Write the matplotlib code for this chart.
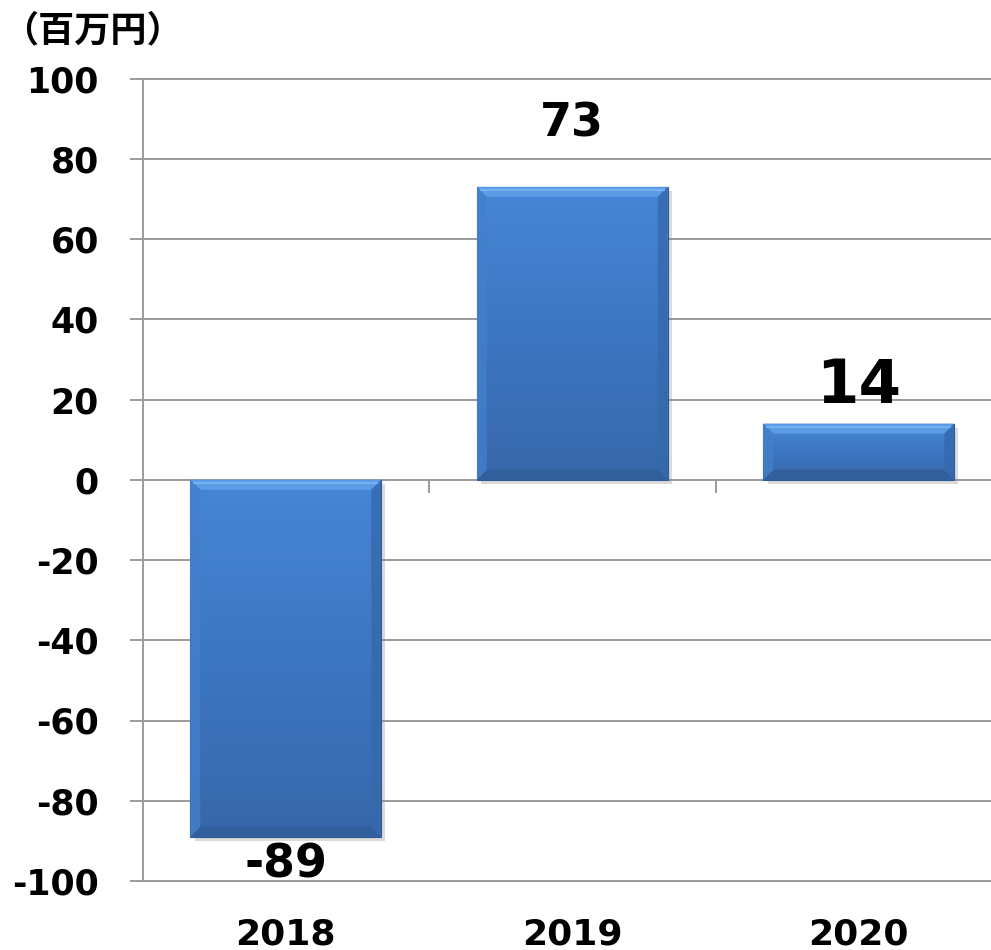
import numpy as np
import matplotlib.pyplot as plt
import matplotlib.patheffects as pe
from matplotlib.patches import Polygon
from matplotlib.colors import LinearSegmentedColormap

# 年度別の損益（百万円）
years = ['2018', '2019', '2020']
profit = [-89, 73, 14]
y_ticks = [-100, -80, -60, -40, -20, 0, 20, 40, 60, 80, 100]

# ラベルの位置（棒の端からのずれ, pt）とサイズ
label_offsets = [-4, 36, 15]
label_sizes = [33, 33, 44]

grid_col = '#9a9a9a'
bar_cmap = LinearSegmentedColormap.from_list('bar', ['#4686d6', '#3d76c2', '#3767aa'])

fig = plt.figure(figsize=(9.91, 9.5), dpi=100)
ax = fig.add_axes([142.5 / 991, 1 - 881 / 950, 859.5 / 991, 802.5 / 950])

x = np.arange(len(years))
width = 0.665
bars = ax.bar(x, profit, width=width, color='#3c74bf', edgecolor='#2e5a96',
              linewidth=0.8, zorder=3,
              path_effects=[pe.SimplePatchShadow(offset=(3, -3), shadow_rgbFace='#888888', alpha=0.3),
                            pe.Normal()])

# 縦方向のグラデーションと面取り
grad = np.linspace(0, 1, 256).reshape(-1, 1)
bx, by = 0.034, 2.5
for b, v in zip(bars, profit):
    x0, x1 = b.get_x(), b.get_x() + b.get_width()
    lo, hi = min(0, v), max(0, v)
    im = ax.imshow(grad, cmap=bar_cmap, extent=(x0, x1, lo, hi), origin='upper',
                   aspect='auto', zorder=3.1)
    im.set_clip_path(b)
    top = Polygon([(x0, hi), (x1, hi), (x1 - bx, hi - by), (x0 + bx, hi - by)],
                  closed=True, facecolor='#5a9ce6', edgecolor='none', zorder=3.2)
    bot = Polygon([(x0, lo), (x1, lo), (x1 - bx, lo + by), (x0 + bx, lo + by)],
                  closed=True, facecolor='#305f9c', edgecolor='none', zorder=3.2)
    left = Polygon([(x0, lo), (x0, hi), (x0 + bx, hi - by), (x0 + bx, lo + by)],
                   closed=True, facecolor='#437fcb', edgecolor='none', alpha=0.8, zorder=3.2)
    right = Polygon([(x1, lo), (x1, hi), (x1 - bx, hi - by), (x1 - bx, lo + by)],
                    closed=True, facecolor='#3669ac', edgecolor='none', alpha=0.8, zorder=3.2)
    for p in (top, bot, left, right):
        ax.add_patch(p)
    ax.plot([x0 + bx * 0.3, x1 - bx * 0.3], [hi - by * 0.35] * 2, color='#7fb6f2',
            lw=1.2, zorder=3.3, solid_capstyle='butt')

# 値ラベル
for i, v in enumerate(profit):
    ax.annotate(str(v), xy=(x[i], v), xytext=(0, label_offsets[i]), textcoords='offset points',
                ha='center', va='top' if v < 0 else 'baseline',
                fontsize=label_sizes[i], fontweight='bold', family='DejaVu Sans', zorder=5)

ax.set_xlim(-0.5, len(years) - 0.5)
ax.set_ylim(-100, 100)
ax.set_yticks(y_ticks, [str(t) for t in y_ticks])
ax.set_xticks(x, years)
ax.yaxis.grid(True, color=grid_col, lw=1.4)
ax.set_axisbelow(True)

ax.spines['right'].set_visible(False)
for s in ('left', 'top', 'bottom'):
    ax.spines[s].set_color(grid_col)
    ax.spines[s].set_linewidth(1.4)

ax.tick_params(axis='y', length=9.4, width=1.4, color=grid_col, pad=22,
               labelsize=25)
ax.tick_params(axis='x', length=0, pad=26, labelsize=26)
for lab in ax.get_xticklabels() + ax.get_yticklabels():
    lab.set_fontweight('bold')
    lab.set_family('DejaVu Sans')

# ゼロ線上の区切り目盛り
sec = ax.secondary_xaxis(0.5)
sec.set_alignment('bottom')
sec.set_xticks([0.5, 1.5], labels=['', ''])
sec.tick_params(length=9, width=1.4, color=grid_col, direction='out')
for s in sec.spines.values():
    s.set_visible(False)

fig.text(2 / 991, 1 - 31 / 950, '（百万円）', family=['Noto Sans CJK JP', 'DejaVu Sans'],
         fontweight='bold', fontsize=26, va='center', ha='left')

fig.savefig('out.png', dpi=100)
